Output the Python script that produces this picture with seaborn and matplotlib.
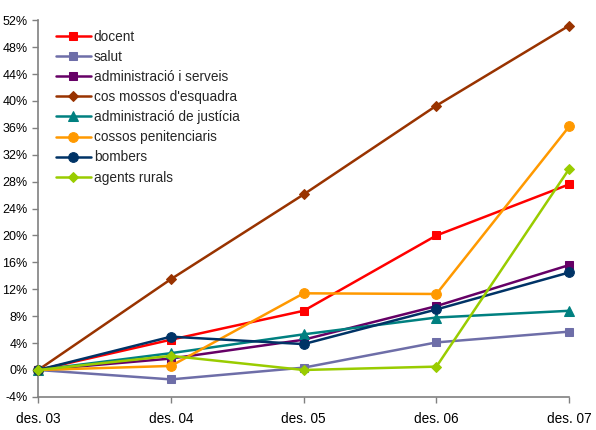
import matplotlib
matplotlib.use("Agg")
import matplotlib.pyplot as plt
import seaborn as sns
import pandas as pd
from matplotlib.ticker import FuncFormatter, MultipleLocator

periods = ["des. 03", "des. 04", "des. 05", "des. 06", "des. 07"]
docent = [0.0, 4.5, 8.8, 20.0, 27.6]
salut = [0.0, -1.4, 0.35, 4.1, 5.7]
admin_serveis = [0.0, 1.7, 4.5, 9.5, 15.6]
mossos = [0.0, 13.5, 26.1, 39.3, 51.2]
justicia = [0.0, 2.5, 5.3, 7.8, 8.8]
penitenciaris = [0.0, 0.6, 11.4, 11.3, 36.2]
bombers = [0.0, 4.95, 3.85, 9.0, 14.5]
rurals = [0.0, 2.1, 0.0, 0.5, 29.9]

series = {
    "docent": docent,
    "salut": salut,
    "administració i serveis": admin_serveis,
    "cos mossos d'esquadra": mossos,
    "administració de justícia": justicia,
    "cossos penitenciaris": penitenciaris,
    "bombers": bombers,
    "agents rurals": rurals,
}
colors = {
    "docent": "#FF0000",
    "salut": "#6E6EA8",
    "administració i serveis": "#660066",
    "cos mossos d'esquadra": "#993300",
    "administració de justícia": "#008080",
    "cossos penitenciaris": "#FF9900",
    "bombers": "#003366",
    "agents rurals": "#99CC00",
}
markers = {
    "docent": "s",
    "salut": "s",
    "administració i serveis": "s",
    "cos mossos d'esquadra": "D",
    "administració de justícia": "^",
    "cossos penitenciaris": "o",
    "bombers": "o",
    "agents rurals": "D",
}
sizes = {"s": 6, "D": 5.5, "^": 7, "o": 7}

rows = []
for name, vals in series.items():
    for i, v in enumerate(vals):
        rows.append({"serie": name, "x": i, "y": v})
df = pd.DataFrame(rows)

sns.set_theme(style="white")
plt.rcParams["font.family"] = ["Liberation Sans", "DejaVu Sans"]

fig = plt.figure(figsize=(5.96, 4.30), dpi=100)
ax = fig.add_axes([0.064, 0.077, 0.891, 0.876])

order = list(series.keys())
for name in order:
    sub = df[df["serie"] == name]
    m = markers[name]
    sns.lineplot(data=sub, x="x", y="y", ax=ax, color=colors[name], marker=m,
                 markersize=sizes[m], markeredgecolor=colors[name], linewidth=1.8,
                 label=name, clip_on=False, zorder=3)

ax.set_xlim(0, 4)
ax.set_ylim(-4, 52)
ax.yaxis.set_major_locator(MultipleLocator(4))
ax.yaxis.set_major_formatter(FuncFormatter(lambda v, p: f"{int(round(v))}%"))
ax.set_xticks(range(len(periods)))
ax.set_xticklabels(periods)
ax.set_xlabel("")
ax.set_ylabel("")
for s in ["top", "right"]:
    ax.spines[s].set_visible(False)
for s in ["left", "bottom"]:
    ax.spines[s].set_color("#808080")
    ax.spines[s].set_linewidth(1.2)
ax.tick_params(axis="both", direction="out", length=4, width=1, color="#808080",
               labelcolor="black", left=True, bottom=True)
ax.tick_params(axis="y", labelsize=9)
ax.tick_params(axis="x", labelsize=9.8, pad=7)
ax.grid(False)

leg = ax.legend(loc="upper left", bbox_to_anchor=(0.015, 1.0), frameon=False,
                fontsize=9.8, handlelength=2.6, labelspacing=0.45, handletextpad=0.2,
                borderaxespad=0.3)

fig.savefig("out.png", dpi=100)
